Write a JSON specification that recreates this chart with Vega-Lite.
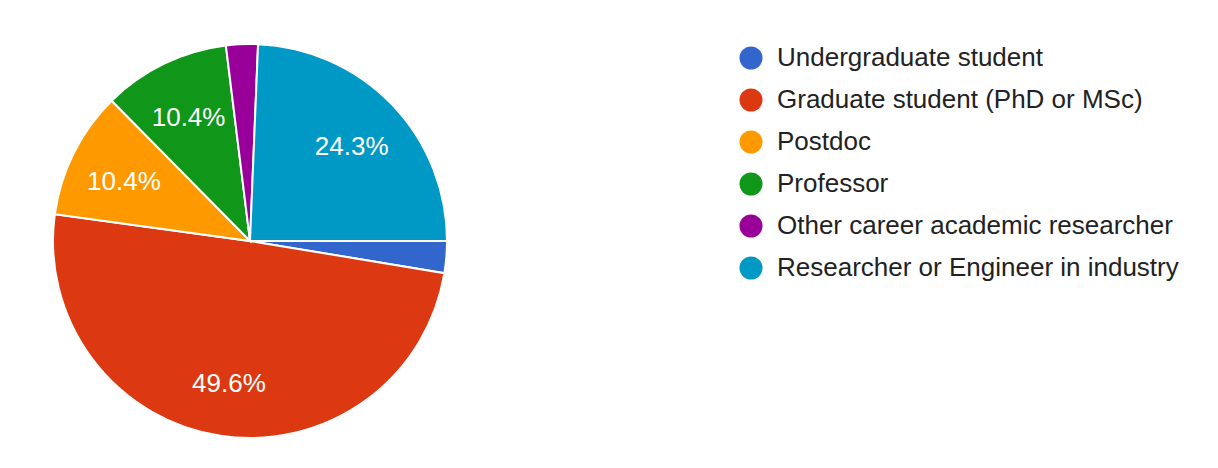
{
  "$schema": "https://vega.github.io/schema/vega-lite/v6.json",
  "width": 500,
  "height": 468,
  "padding": {"left": 0, "top": 7, "right": 0, "bottom": 0},
  "background": "white",
  "data": {
    "values": [
      {"category": "Undergraduate student", "count": 3, "rank": 1, "label": ""},
      {"category": "Graduate student (PhD or MSc)", "count": 57, "rank": 2, "label": "49.6%"},
      {"category": "Postdoc", "count": 12, "rank": 3, "label": "10.4%"},
      {"category": "Professor", "count": 12, "rank": 4, "label": "10.4%"},
      {"category": "Other career academic researcher", "count": 3, "rank": 5, "label": ""},
      {"category": "Researcher or Engineer in industry", "count": 28, "rank": 6, "label": "24.3%"}
    ]
  },
  "encoding": {
    "theta": {"field": "count", "type": "quantitative", "stack": true, "scale": {"range": [1.5708, 7.8540]}},
    "order": {"field": "rank", "type": "quantitative"}
  },
  "layer": [
    {
      "mark": {"type": "arc", "outerRadius": 197, "stroke": "white", "strokeWidth": 2},
      "encoding": {
        "color": {
          "field": "category",
          "type": "nominal",
          "sort": null,
          "scale": {
            "domain": ["Undergraduate student", "Graduate student (PhD or MSc)", "Postdoc", "Professor", "Other career academic researcher", "Researcher or Engineer in industry"],
            "range": ["#3366cc", "#dc3912", "#ff9900", "#109618", "#990099", "#0099c6"]
          },
          "legend": {
            "title": null,
            "orient": "none",
            "legendX": 738,
            "legendY": 38,
            "symbolType": "circle",
            "symbolSize": 530,
            "symbolStrokeWidth": 0,
            "labelFontSize": 26,
            "labelFont": "Liberation Sans",
            "labelColor": "#222222",
            "labelOffset": 13,
            "labelLimit": 600,
            "rowPadding": 16
          }
        }
      }
    },
    {
      "mark": {"type": "text", "radius": 141, "dy": 4, "fontSize": 26, "font": "Liberation Sans", "color": "white", "align": "center", "baseline": "middle"},
      "encoding": {
        "text": {"field": "label", "type": "nominal"}
      }
    }
  ],
  "config": {"view": {"stroke": null}}
}
